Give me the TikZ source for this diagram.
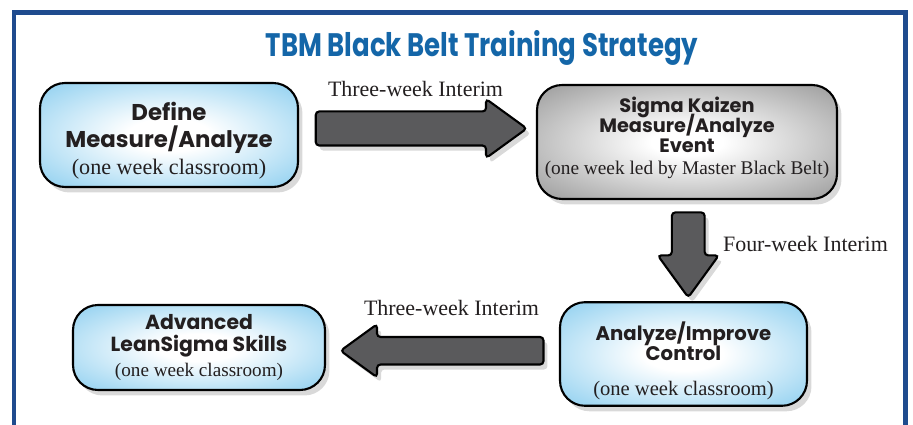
\documentclass[tikz,border=0pt]{standalone}
\usepackage{fontspec}
\setmainfont{Liberation Serif}
\newfontfamily\headfont{Poppins}
\newfontfamily\titlefont{Poppins}[FakeStretch=0.8]
\usetikzlibrary{positioning}
\usetikzlibrary{shapes.arrows,shadows,calc}
\definecolor{framecol}{HTML}{1F4B8E}
\definecolor{titlecol}{HTML}{1466A8}
\definecolor{boxblue}{HTML}{74C4EC}
\definecolor{boxgrey}{HTML}{858585}
\definecolor{arrowgrey}{HTML}{5A5A5C}
\definecolor{inkcol}{HTML}{231F20}
\pgfdeclareradialshading{bluecore}{\pgfpoint{0bp}{0bp}}{color(0bp)=(white); color(8bp)=(white); color(42bp)=(boxblue); color(50bp)=(boxblue)}
\pgfdeclareradialshading{greycore}{\pgfpoint{0bp}{0bp}}{color(0bp)=(white); color(6bp)=(white); color(42bp)=(boxgrey); color(50bp)=(boxgrey)}
\newcommand*{\Head}[2]{{\headfont\bfseries\fontsize{#1}{#1}\selectfont #2}}
\newcommand*{\Sub}[2]{{\fontsize{#1}{#1}\selectfont #2}}
\newcommand*{\Tight}{\lineskiplimit=-20pt\relax}
\newcommand*{\TopPad}[1]{\rule{0pt}{#1}}
\newcommand*{\BotPad}[1]{\rule[-#1]{0pt}{#1}}
\tikzset{
  stagebox/.style={draw=black, line width=1.2pt, rounded corners=0.5cm,
    align=center, text=inkcol, shading=bluecore,
    drop shadow={shadow xshift=0.09cm, shadow yshift=-0.11cm, opacity=0.3}},
  eventbox/.style={stagebox, shading=greycore},
  blockarrow/.style={single arrow, draw=black, line width=1.2pt,
    fill=arrowgrey, rounded corners=2pt, single arrow tip angle=72,
    drop shadow={shadow xshift=0.08cm, shadow yshift=-0.1cm, opacity=0.3}},
  interim/.style={inner sep=0pt, text=inkcol, font=\fontsize{12.5}{15}\selectfont}
}

\begin{document}
\begin{tikzpicture}[x=0.02cm, y=-0.02cm]
\useasboundingbox (0,0) rectangle (913,425);
% Frame
\draw[framecol, line width=2.6pt] (14,425) -- (14,12.5) -- (905.5,12.5) -- (905.5,425);
\node[text=titlecol, font=\titlefont\bfseries\fontsize{18.5}{20}\selectfont] (title) at (482,48) {TBM Black Belt Training Strategy};

% Classroom weeks
\node[stagebox,
    minimum width=5.16cm,
    minimum height=2.08cm,
    font=\fontsize{12}{15.4}\selectfont\Tight
    ] (define) at (169,135) {\TopPad{17pt}\Head{13}{Define}\\ \Head{13}{Measure/Analyze}\\ \Sub{12.6}{(one week classroom)}};

\node[eventbox,
    minimum width=6cm,
    minimum height=2.28cm,
    inner xsep=2pt,
    font=\fontsize{11}{11.3}\selectfont\Tight
    ] (sigma) at (687,142) {\Head{11}{Sigma Kaizen}\\ \Head{11}{Measure/Analyze}\\ \Head{11}{Event}\\[1.2pt] \Sub{11}{(one week led by Master Black Belt)}\BotPad{7pt}};

\node[stagebox,
    minimum width=4.94cm,
    minimum height=2.04cm,
    font=\fontsize{11}{11.6}\selectfont\Tight
    ] (analyze) at (683.5,354) {\TopPad{18.4pt}\Head{11.2}{Analyze/Improve}\\ \Head{11.2}{Control}\\[8.2pt] \Sub{11.7}{(one week classroom)}};

\node[stagebox,
    minimum width=5.04cm,
    minimum height=1.7cm,
    font=\fontsize{11}{12.5}\selectfont\Tight
    ] (advanced) at (199,347.5) {\Head{11.6}{Advanced}\\ \Head{11.6}{LeanSigma Skills}\\[1.7pt] \Sub{10.9}{(one week classroom)}};

% Interim arrows
\node[blockarrow,
    minimum height=4.22cm,
    minimum width=1.12cm,
    inner sep=0.32cm
    ] (arrA) at ($(define.east)!0.5!(sigma.west)+(-8,-10)$) {};
\node[blockarrow,
    shape border rotate=270,
    minimum height=1.7cm,
    minimum width=1.22cm,
    inner sep=0.27cm
    ] (arrB) at ($(sigma.south)!0.5!(analyze.north)+(3,-7)$) {};
\node[blockarrow,
    shape border rotate=180,
    minimum height=4.06cm,
    minimum width=1.06cm,
    inner sep=0.25cm
    ] (arrC) at ($(analyze.west)!0.5!(advanced.east)+(9,0)$) {};

\node[interim, above=0.26cm of arrA, xshift=0.12cm] (lblA) {Three-week Interim};
\node[interim, right=0.34cm of arrB] (lblB) {Four-week Interim};
\node[interim, above=0.4cm of arrC] (lblC) {Three-week Interim};

\end{tikzpicture}
\end{document}
